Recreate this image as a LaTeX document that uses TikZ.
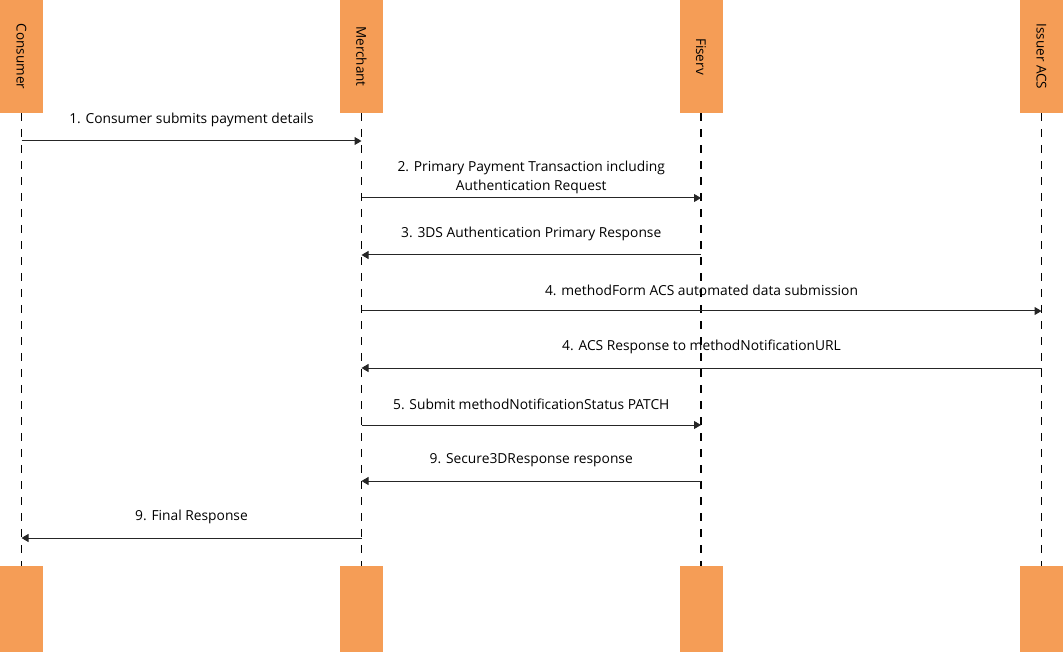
\documentclass[tikz,border=0pt]{standalone}
\usepackage{fontspec}
\setmainfont{Open Sans}
\usetikzlibrary{arrows.meta}
\definecolor{actorfill}{HTML}{F59D56}

\begin{document}
\begin{tikzpicture}[x=1pt, y=-1pt, >={Triangle[length=7pt,width=8pt]}]
    \tikzstyle{actor}=[rectangle,fill=actorfill,minimum width=43pt,minimum height=113pt,inner sep=0pt]
    \tikzstyle{foot}=[rectangle,fill=actorfill,minimum width=43pt,minimum height=86pt,inner sep=0pt]
    \tikzstyle{lifeline}=[black,line width=1.2pt,dash pattern=on 8pt off 8pt]
    \tikzstyle{msg}=[->,black!85,line width=1pt]
    \tikzstyle{lbl}=[midway,yshift=21pt,inner sep=0pt,font=\fontsize{13.8}{19}\selectfont,align=center,text=black]
    \useasboundingbox (0,0) rectangle (1063,652);
    % actors at the top
    \node[actor] (consumer) at (21.5,56.5){\rotatebox{-90}{\fontsize{13.5}{16}\selectfont Consumer}};
    \node[actor] (merchant) at (361.5,56.5){\rotatebox{-90}{\fontsize{13.5}{16}\selectfont Merchant}};
    \node[actor] (fiserv) at (701,56.5){\rotatebox{-90}{\fontsize{13.5}{16}\selectfont Fiserv}};
    \node[actor] (issuer) at (1041.5,56.5){\rotatebox{-90}{\fontsize{13.5}{16}\selectfont Issuer ACS}};
    % actors at the bottom
    \node[foot] (consumerfoot) at (21.5,609){};
    \node[foot] (merchantfoot) at (361.5,609){};
    \node[foot] (fiservfoot) at (701,609){};
    \node[foot] (issuerfoot) at (1041.5,609){};
    % lifelines
    \draw[lifeline] (consumer) -- (consumerfoot);
    \draw[lifeline] (merchant) -- (merchantfoot);
    \draw[lifeline] (fiserv) -- (fiservfoot);
    \draw[lifeline] (issuer) -- (issuerfoot);
    % message rows
    \coordinate (r1) at (0,141);
    \coordinate (r2) at (0,198);
    \coordinate (r3) at (0,255);
    \coordinate (r4) at (0,311);
    \coordinate (r5) at (0,368);
    \coordinate (r6) at (0,425);
    \coordinate (r7) at (0,481);
    \coordinate (r8) at (0,538);
    % messages
    \draw[msg] (consumer |- r1) -- node[lbl]{1. Consumer submits payment details} (merchant |- r1);
    \draw[msg] (merchant |- r2) -- node[lbl]{2. Primary Payment Transaction including\\Authentication Request} (fiserv |- r2);
    \draw[msg] (fiserv |- r3) -- node[lbl]{3. 3DS Authentication Primary Response} (merchant |- r3);
    \draw[msg] (merchant |- r4) -- node[lbl]{4. methodForm ACS automated data submission} (issuer |- r4);
    \draw[msg] (issuer |- r5) -- node[lbl]{4. ACS Response to methodNotificationURL} (merchant |- r5);
    \draw[msg] (merchant |- r6) -- node[lbl]{5. Submit methodNotificationStatus PATCH} (fiserv |- r6);
    \draw[msg] (fiserv |- r7) -- node[lbl]{9. Secure3DResponse response} (merchant |- r7);
    \draw[msg] (merchant |- r8) -- node[lbl]{9. Final Response} (consumer |- r8);
\end{tikzpicture}
\end{document}
